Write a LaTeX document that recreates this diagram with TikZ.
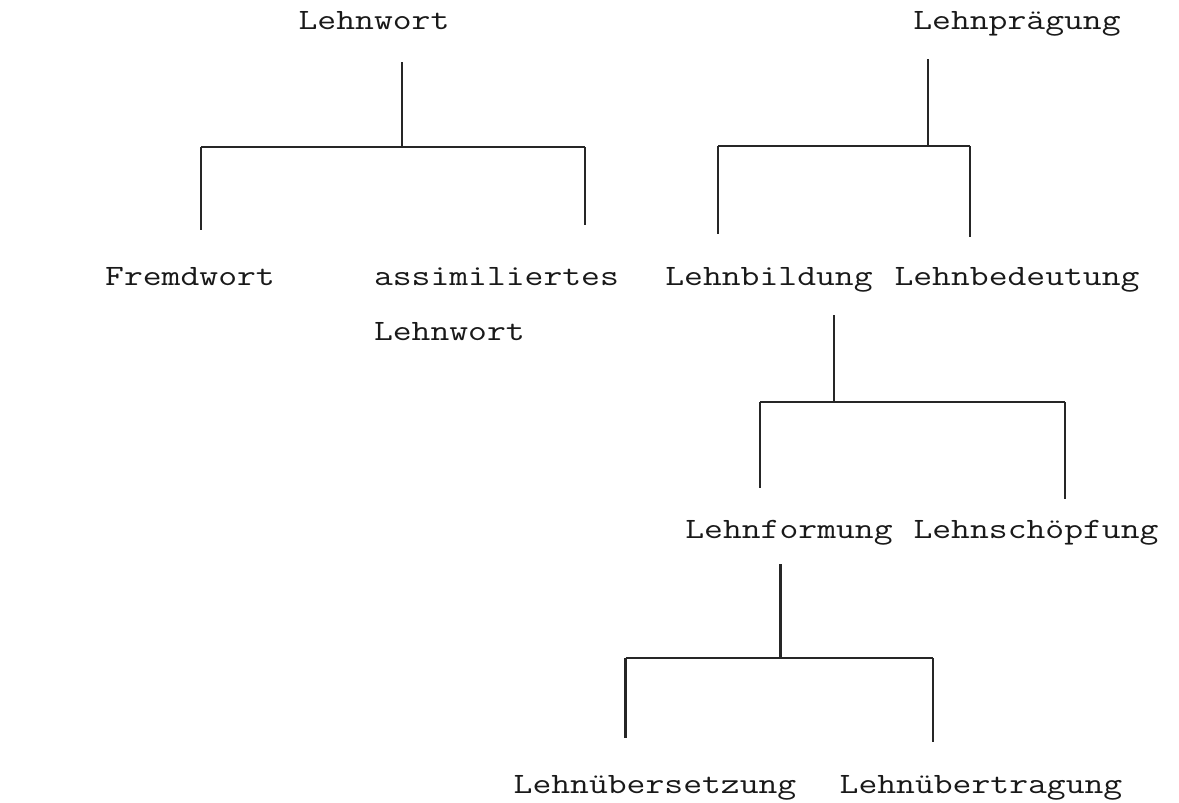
\documentclass[tikz,border=0pt]{standalone}
\usepackage{fontspec}
\setmonofont[FakeStretch=1.24]{Latin Modern Mono}
\begin{document}
\begin{tikzpicture}[x=1pt,y=-1pt,
  lbl/.style={anchor=base,inner sep=0pt,outer sep=0pt,font=\ttfamily\fontsize{29.5}{36}\selectfont,text=black!90},
  lblw/.style={lbl,anchor=base west},
  branch/.style={draw=black!85,line width=2.3pt,line cap=butt}]
\useasboundingbox[fill=white] (0,0) rectangle (1179,803);
% labels
\node[lbl] (lw) at (374,30) {Lehnwort};
\node[lbl] (lp) at (1017,30) {Lehnprägung};
\node[lbl] (fw) at (190,285) {Fremdwort};
\node[lblw] (al) at (374,285) {assimiliertes};
\node[lblw] (al2) at (374,340) {Lehnwort};
\node[lbl] (lb) at (769,285) {Lehnbildung};
\node[lbl] (lbd) at (1017,285) {Lehnbedeutung};
\node[lbl] (lf) at (789,538) {Lehnformung};
\node[lbl] (ls) at (1036,538) {Lehnschöpfung};
\node[lbl] (lue) at (655,793) {Lehnübersetzung};
\node[lbl] (lut) at (981,793) {Lehnübertragung};
% tree 1
\coordinate (lwt) at (402,62);
\coordinate (lwj) at (402,147);
\coordinate (lwl) at (201,147);
\coordinate (lwr) at (585,147);
\coordinate (fwt) at (201,230);
\coordinate (alt) at (585,225);
\draw[branch] (lwt) -- (lwj);
\draw[branch] (lwl) -- (lwr);
\draw[branch] (lwl) -- (fwt);
\draw[branch] (lwr) -- (alt);
% tree 2
\coordinate (lpt) at (928,59);
\coordinate (lpj) at (928,146);
\coordinate (lpl) at (718,146);
\coordinate (lpr) at (970,146);
\coordinate (lbt) at (718,234);
\coordinate (lbdt) at (970,237);
\draw[branch] (lpt) -- (lpj);
\draw[branch] (lpl) -- (lpr);
\draw[branch] (lpl) -- (lbt);
\draw[branch] (lpr) -- (lbdt);
% tree 3
\coordinate (lbb) at (834,315);
\coordinate (lbj) at (834,402);
\coordinate (lbl) at (760,402);
\coordinate (lbr) at (1065,402);
\coordinate (lft) at (760,488);
\coordinate (lst) at (1065,499);
\draw[branch] (lbb) -- (lbj);
\draw[branch] (lbl) -- (lbr);
\draw[branch] (lbl) -- (lft);
\draw[branch] (lbr) -- (lst);
% tree 4
\coordinate (lfb) at (780.5,564);
\coordinate (lfj) at (780.5,658);
\coordinate (lfl) at (625.5,658);
\coordinate (lfr) at (933,658);
\coordinate (luet) at (625.5,738);
\coordinate (lutt) at (933,742);
\draw[branch] (lfb) -- (lfj);
\draw[branch] (lfl) -- (lfr);
\draw[branch] (lfl) -- (luet);
\draw[branch] (lfr) -- (lutt);
\end{tikzpicture}
\end{document}
